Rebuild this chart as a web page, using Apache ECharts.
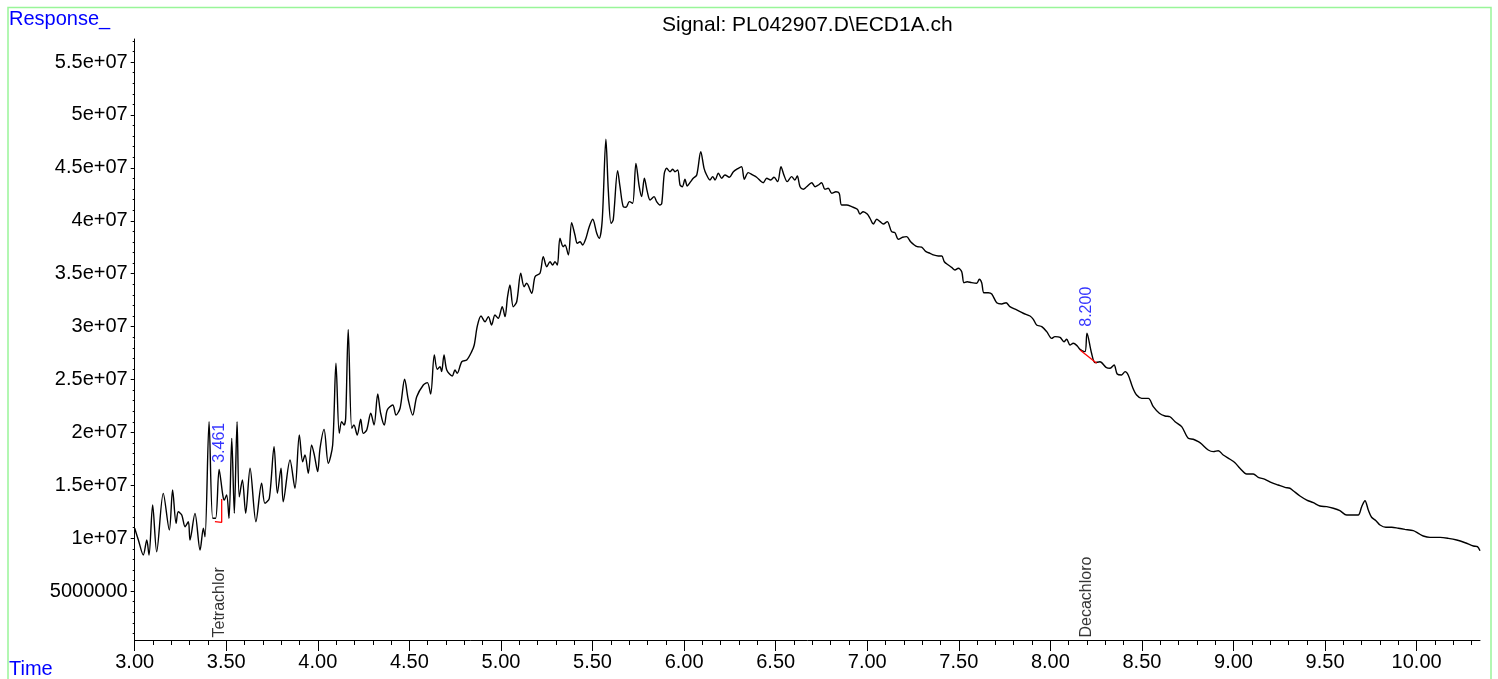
<!DOCTYPE html>
<html><head><meta charset="utf-8">
<script src="https://cdn.jsdelivr.net/npm/echarts@6/dist/echarts.min.js"></script>
<style>html,body{margin:0;padding:0;background:#fff}#c{width:1498px;height:679px}</style>
</head><body><div id="c"></div>
<script>
const times = [3.000,3.020,3.047,3.066,3.078,3.098,3.120,3.156,3.189,3.207,3.226,3.238,3.257,3.275,3.293,3.302,3.329,3.357,3.375,3.384,
3.406,3.426,3.442,3.461,3.481,3.489,3.502,3.515,3.530,3.544,3.559,3.571,3.588,3.606,3.630,3.662,3.693,3.711,3.735,3.761,
3.779,3.799,3.811,3.848,3.875,3.899,3.917,3.930,3.948,3.966,3.981,3.999,4.012,4.034,4.057,4.081,4.099,4.117,4.130,4.143,
4.152,4.166,4.185,4.197,4.215,4.234,4.248,4.267,4.289,4.307,4.327,4.343,4.363,4.379,4.409,4.427,4.449,4.474,4.494,4.518,
4.540,4.576,4.598,4.616,4.636,4.652,4.667,4.676,4.689,4.704,4.734,4.749,4.761,4.786,4.813,4.840,4.854,4.871,4.891,4.913,
4.931,4.949,4.967,4.985,5.007,5.022,5.036,5.049,5.067,5.086,5.108,5.126,5.140,5.168,5.186,5.213,5.231,5.250,5.268,5.282,
5.295,5.308,5.322,5.340,5.350,5.368,5.386,5.404,5.417,5.432,5.446,5.464,5.482,5.501,5.523,5.537,5.553,5.573,5.586,5.601,
5.613,5.637,5.650,5.668,5.683,5.701,5.719,5.737,5.755,5.768,5.783,5.799,5.814,5.836,5.850,5.868,5.878,5.892,5.905,5.923,
5.938,5.950,5.965,5.978,5.990,6.005,6.017,6.036,6.050,6.069,6.091,6.109,6.123,6.141,6.156,6.169,6.187,6.205,6.223,6.247,
6.269,6.296,6.314,6.329,6.350,6.374,6.396,6.432,6.451,6.473,6.491,6.511,6.529,6.545,6.563,6.587,6.605,6.618,6.633,6.651,
6.669,6.697,6.715,6.733,6.751,6.769,6.787,6.806,6.829,6.847,6.860,6.888,6.915,6.946,6.960,6.978,7.000,7.015,7.033,7.052,
7.070,7.088,7.109,7.133,7.151,7.170,7.193,7.215,7.237,7.257,7.273,7.297,7.321,7.343,7.361,7.388,7.407,7.421,7.443,7.461,
7.479,7.497,7.516,7.528,7.546,7.570,7.598,7.612,7.625,7.637,7.661,7.680,7.707,7.734,7.758,7.779,7.816,7.852,7.889,7.907,
7.925,7.953,7.980,8.007,8.025,8.053,8.074,8.089,8.107,8.125,8.147,8.162,8.189,8.200,8.225,8.244,8.271,8.304,8.326,8.348,
8.365,8.389,8.408,8.425,8.449,8.471,8.499,8.535,8.562,8.595,8.626,8.653,8.681,8.717,8.753,8.780,8.808,8.826,8.862,8.890,
8.917,8.944,8.981,9.008,9.035,9.072,9.108,9.135,9.172,9.208,9.244,9.281,9.308,9.326,9.363,9.400,9.436,9.472,9.509,9.545,
9.581,9.618,9.654,9.681,9.700,9.718,9.736,9.754,9.778,9.800,9.832,9.864,9.900,9.936,9.982,10.009,10.036,10.073,10.128,10.173,
10.219,10.265,10.310,10.332,10.346];
const responses = [1.094e7,0.983e7,0.841e7,0.983e7,0.841e7,1.314e7,0.872e7,1.424e7,1.078e7,1.456e7,1.141e7,1.250e7,1.219e7,1.109e7,1.156e7,0.983e7,1.235e7,0.888e7,1.094e7,1.014e7,
2.101e7,1.188e7,1.188e7,1.651e7,1.408e7,1.361e7,1.408e7,1.188e7,1.944e7,1.235e7,2.101e7,1.392e7,1.550e7,1.235e7,1.661e7,1.156e7,1.519e7,1.330e7,1.377e7,1.865e7,
1.424e7,1.661e7,1.345e7,1.739e7,1.472e7,1.975e7,1.723e7,1.786e7,1.613e7,1.881e7,1.786e7,1.629e7,1.850e7,2.029e7,1.708e7,1.881e7,2.653e7,1.991e7,2.101e7,2.070e7,
2.133e7,2.974e7,2.039e7,2.070e7,1.975e7,2.124e7,1.991e7,2.023e7,2.181e7,2.070e7,2.363e7,2.181e7,2.070e7,2.212e7,2.259e7,2.164e7,2.228e7,2.502e7,2.306e7,2.164e7,
2.337e7,2.448e7,2.470e7,2.363e7,2.732e7,2.596e7,2.621e7,2.574e7,2.732e7,2.590e7,2.533e7,2.590e7,2.558e7,2.668e7,2.684e7,2.763e7,2.826e7,3.006e7,3.100e7,3.046e7,
3.094e7,3.015e7,3.110e7,3.078e7,3.188e7,3.094e7,3.283e7,3.393e7,3.188e7,3.235e7,3.504e7,3.377e7,3.409e7,3.315e7,3.472e7,3.504e7,3.661e7,3.566e7,3.613e7,3.582e7,
3.613e7,3.582e7,3.835e7,3.755e7,3.771e7,3.677e7,3.982e7,3.866e7,3.787e7,3.802e7,3.771e7,3.835e7,3.944e7,4.014e7,3.882e7,3.835e7,4.008e7,4.770e7,4.291e7,3.976e7,
4.008e7,4.474e7,4.322e7,4.133e7,4.128e7,4.181e7,4.165e7,4.543e7,4.322e7,4.228e7,4.402e7,4.275e7,4.197e7,4.228e7,4.181e7,4.149e7,4.165e7,4.449e7,4.496e7,4.464e7,
4.487e7,4.464e7,4.480e7,4.338e7,4.322e7,4.392e7,4.329e7,4.370e7,4.402e7,4.433e7,4.653e7,4.496e7,4.433e7,4.386e7,4.417e7,4.386e7,4.449e7,4.402e7,4.433e7,4.411e7,
4.464e7,4.496e7,4.511e7,4.392e7,4.455e7,4.433e7,4.411e7,4.360e7,4.402e7,4.386e7,4.411e7,4.370e7,4.511e7,4.433e7,4.370e7,4.417e7,4.386e7,4.423e7,4.322e7,4.298e7,
4.322e7,4.360e7,4.322e7,4.338e7,4.360e7,4.298e7,4.307e7,4.260e7,4.275e7,4.260e7,4.149e7,4.149e7,4.133e7,4.109e7,4.064e7,4.086e7,4.064e7,4.024e7,3.970e7,4.014e7,
3.992e7,3.970e7,3.992e7,3.897e7,3.888e7,3.825e7,3.844e7,3.850e7,3.802e7,3.771e7,3.755e7,3.750e7,3.708e7,3.693e7,3.677e7,3.667e7,3.667e7,3.613e7,3.582e7,3.560e7,
3.535e7,3.551e7,3.519e7,3.415e7,3.424e7,3.415e7,3.409e7,3.447e7,3.415e7,3.320e7,3.320e7,3.308e7,3.226e7,3.214e7,3.226e7,3.188e7,3.157e7,3.126e7,3.100e7,3.069e7,
3.015e7,2.999e7,2.952e7,2.889e7,2.905e7,2.899e7,2.857e7,2.880e7,2.826e7,2.842e7,2.817e7,2.785e7,2.763e7,2.937e7,2.748e7,2.659e7,2.668e7,2.615e7,2.606e7,2.637e7,
2.552e7,2.543e7,2.574e7,2.543e7,2.426e7,2.353e7,2.322e7,2.322e7,2.243e7,2.181e7,2.155e7,2.148e7,2.101e7,2.054e7,1.944e7,1.935e7,1.912e7,1.890e7,1.834e7,1.818e7,
1.827e7,1.786e7,1.746e7,1.714e7,1.661e7,1.607e7,1.607e7,1.576e7,1.557e7,1.525e7,1.503e7,1.481e7,1.472e7,1.449e7,1.399e7,1.361e7,1.336e7,1.304e7,1.298e7,1.283e7,
1.260e7,1.219e7,1.219e7,1.219e7,1.298e7,1.354e7,1.267e7,1.198e7,1.165e7,1.125e7,1.103e7,1.103e7,1.094e7,1.084e7,1.071e7,1.046e7,1.021e7,1.008e7,1.008e7,0.999e7,
0.983e7,0.957e7,0.926e7,0.920e7,0.882e7];

// integration baselines (red)
const base1Times = [3.438, 3.475, 3.475];
const base1Values = [1.156e7, 1.150e7, 1.370e7];
const base2Times = [8.162, 8.253];
const base2Values = [2.779e7, 2.653e7];

// peak labels
const peakTimes = [3.461, 8.200];
const peakHeights = [1.651e7, 2.937e7];
const peakTexts = ['3.461', '8.200'];
// compound names
const compoundTimes = [3.461, 8.200];
const compoundNames = ['Tetrachlor', 'Decachloro'];

// axes
const xMin = 3.0, xMax = 10.346;
const yMin = 380000, yMax = 57180000;
const xTickValues = [3.0,3.5,4.0,4.5,5.0,5.5,6.0,6.5,7.0,7.5,8.0,8.5,9.0,9.5,10.0];
const yTickValues = [5e6,1e7,1.5e7,2e7,2.5e7,3e7,3.5e7,4e7,4.5e7,5e7,5.5e7];
const yTickLabels = ['5000000','1e+07','1.5e+07','2e+07','2.5e+07','3e+07','3.5e+07','4e+07','4.5e+07','5e+07','5.5e+07'];

const xMinor = [];
for (let i = 31; i <= 103; i++) if (i % 5 !== 0) xMinor.push(i / 10);
const yMinor = [];
for (let i = 1; i <= 57; i++) if (i % 5 !== 0) yMinor.push(i * 1e6);

const FONT = 'Liberation Sans, Arial, Helvetica, sans-serif';
const GL = 134.7, GR = 18, GT = 39, GB = 39;
const W = 1498, H = 679;
const gridW = W - GL - GR, gridH = H - GT - GB;

const chart = echarts.init(document.getElementById('c'), null, {renderer: 'canvas'});
chart.setOption({
  animation: false,
  backgroundColor: '#fff',
  grid: {left: GL, right: GR, top: GT, bottom: GB, containLabel: false},
  xAxis: [{
    type: 'value', min: xMin, max: xMax, position: 'bottom',
    axisLine: {show: true, onZero: false, lineStyle: {color: '#000', width: 1}},
    axisTick: {show: true, length: 11, customValues: xTickValues, lineStyle: {color: '#000'}},
    axisLabel: {show: true, customValues: xTickValues, margin: 12, color: '#000', fontSize: 20, fontFamily: FONT,
      formatter: v => v.toFixed(2)},
    splitLine: {show: false}
  }, {
    type: 'value', min: xMin, max: xMax, position: 'top', offset: -gridH,
    axisLine: {show: false},
    axisTick: {show: true, inside: true, length: 5, customValues: xMinor, lineStyle: {color: '#000'}},
    axisLabel: {show: false},
    splitLine: {show: false}
  }],
  yAxis: [{
    type: 'value', min: yMin, max: yMax, position: 'left',
    axisLine: {show: true, onZero: false, lineStyle: {color: '#000', width: 1}},
    axisTick: {show: true, length: 4, customValues: yTickValues, lineStyle: {color: '#000'}},
    axisLabel: {show: true, customValues: yTickValues, margin: 7, color: '#000', fontSize: 20, fontFamily: FONT,
      formatter: v => { let k = 0, d = Infinity; yTickValues.forEach((t, i) => { const dd = Math.abs(t - v); if (dd < d) { d = dd; k = i; } }); return yTickLabels[k]; }},
    splitLine: {show: false}
  }, {
    type: 'value', min: yMin, max: yMax, position: 'right', offset: -gridW,
    axisLine: {show: false},
    axisTick: {show: true, inside: true, length: 2, customValues: yMinor, lineStyle: {color: '#000'}},
    axisLabel: {show: false},
    splitLine: {show: false}
  }],
  graphic: [
    {type: 'rect', shape: {x: 8, y: 7.5, width: 1483, height: 720}, style: {fill: 'none', stroke: '#99f599', lineWidth: 1.5}, silent: true},
    {type: 'text', x: 9, y: 9, style: {text: 'Response_', fill: '#0000ff', fontSize: 20, fontFamily: FONT, align: 'left', verticalAlign: 'top'}},
    {type: 'text', x: 9, y: 659, style: {text: 'Time', fill: '#0000ff', fontSize: 20, fontFamily: FONT, align: 'left', verticalAlign: 'top'}},
    {type: 'text', x: GL + gridW / 2, y: 14.5, style: {text: 'Signal: PL042907.D\\ECD1A.ch', fill: '#000', fontSize: 21, fontFamily: FONT, align: 'center', verticalAlign: 'top'}}
  ],
  series: [{
    type: 'line', xAxisIndex: 0, yAxisIndex: 0,
    data: times.map((t, i) => [t, responses[i]]),
    showSymbol: false, symbol: 'none', smooth: 0.3,
    lineStyle: {color: '#000', width: 1.4},
    silent: true
  }, {
    type: 'line', data: base1Times.map((t, i) => [t, base1Values[i]]),
    showSymbol: false, symbol: 'none', lineStyle: {color: '#ff0000', width: 1.3}, silent: true
  }, {
    type: 'line', data: base2Times.map((t, i) => [t, base2Values[i]]),
    showSymbol: false, symbol: 'none', lineStyle: {color: '#ff0000', width: 1.3}, silent: true
  }, {
    type: 'scatter', clip: false, symbolSize: 1, itemStyle: {color: 'rgba(0,0,0,0)'}, silent: true,
    data: peakTimes.map((t, i) => [t, peakHeights[i]]),
    label: {show: true, position: 'top', distance: 6, rotate: 90, align: 'left', verticalAlign: 'middle',
      color: '#0000ff', fontSize: 16, fontFamily: FONT, formatter: p => peakTexts[p.dataIndex]}
  }, {
    type: 'scatter', clip: false, symbolSize: 1, itemStyle: {color: 'rgba(0,0,0,0)'}, silent: true,
    data: compoundTimes.map(t => [t, yMin]),
    label: {show: true, position: 'top', distance: 2, rotate: 90, align: 'left', verticalAlign: 'middle',
      color: '#000', fontSize: 16, fontFamily: FONT, formatter: p => compoundNames[p.dataIndex]}
  }]
});
</script></body></html>
